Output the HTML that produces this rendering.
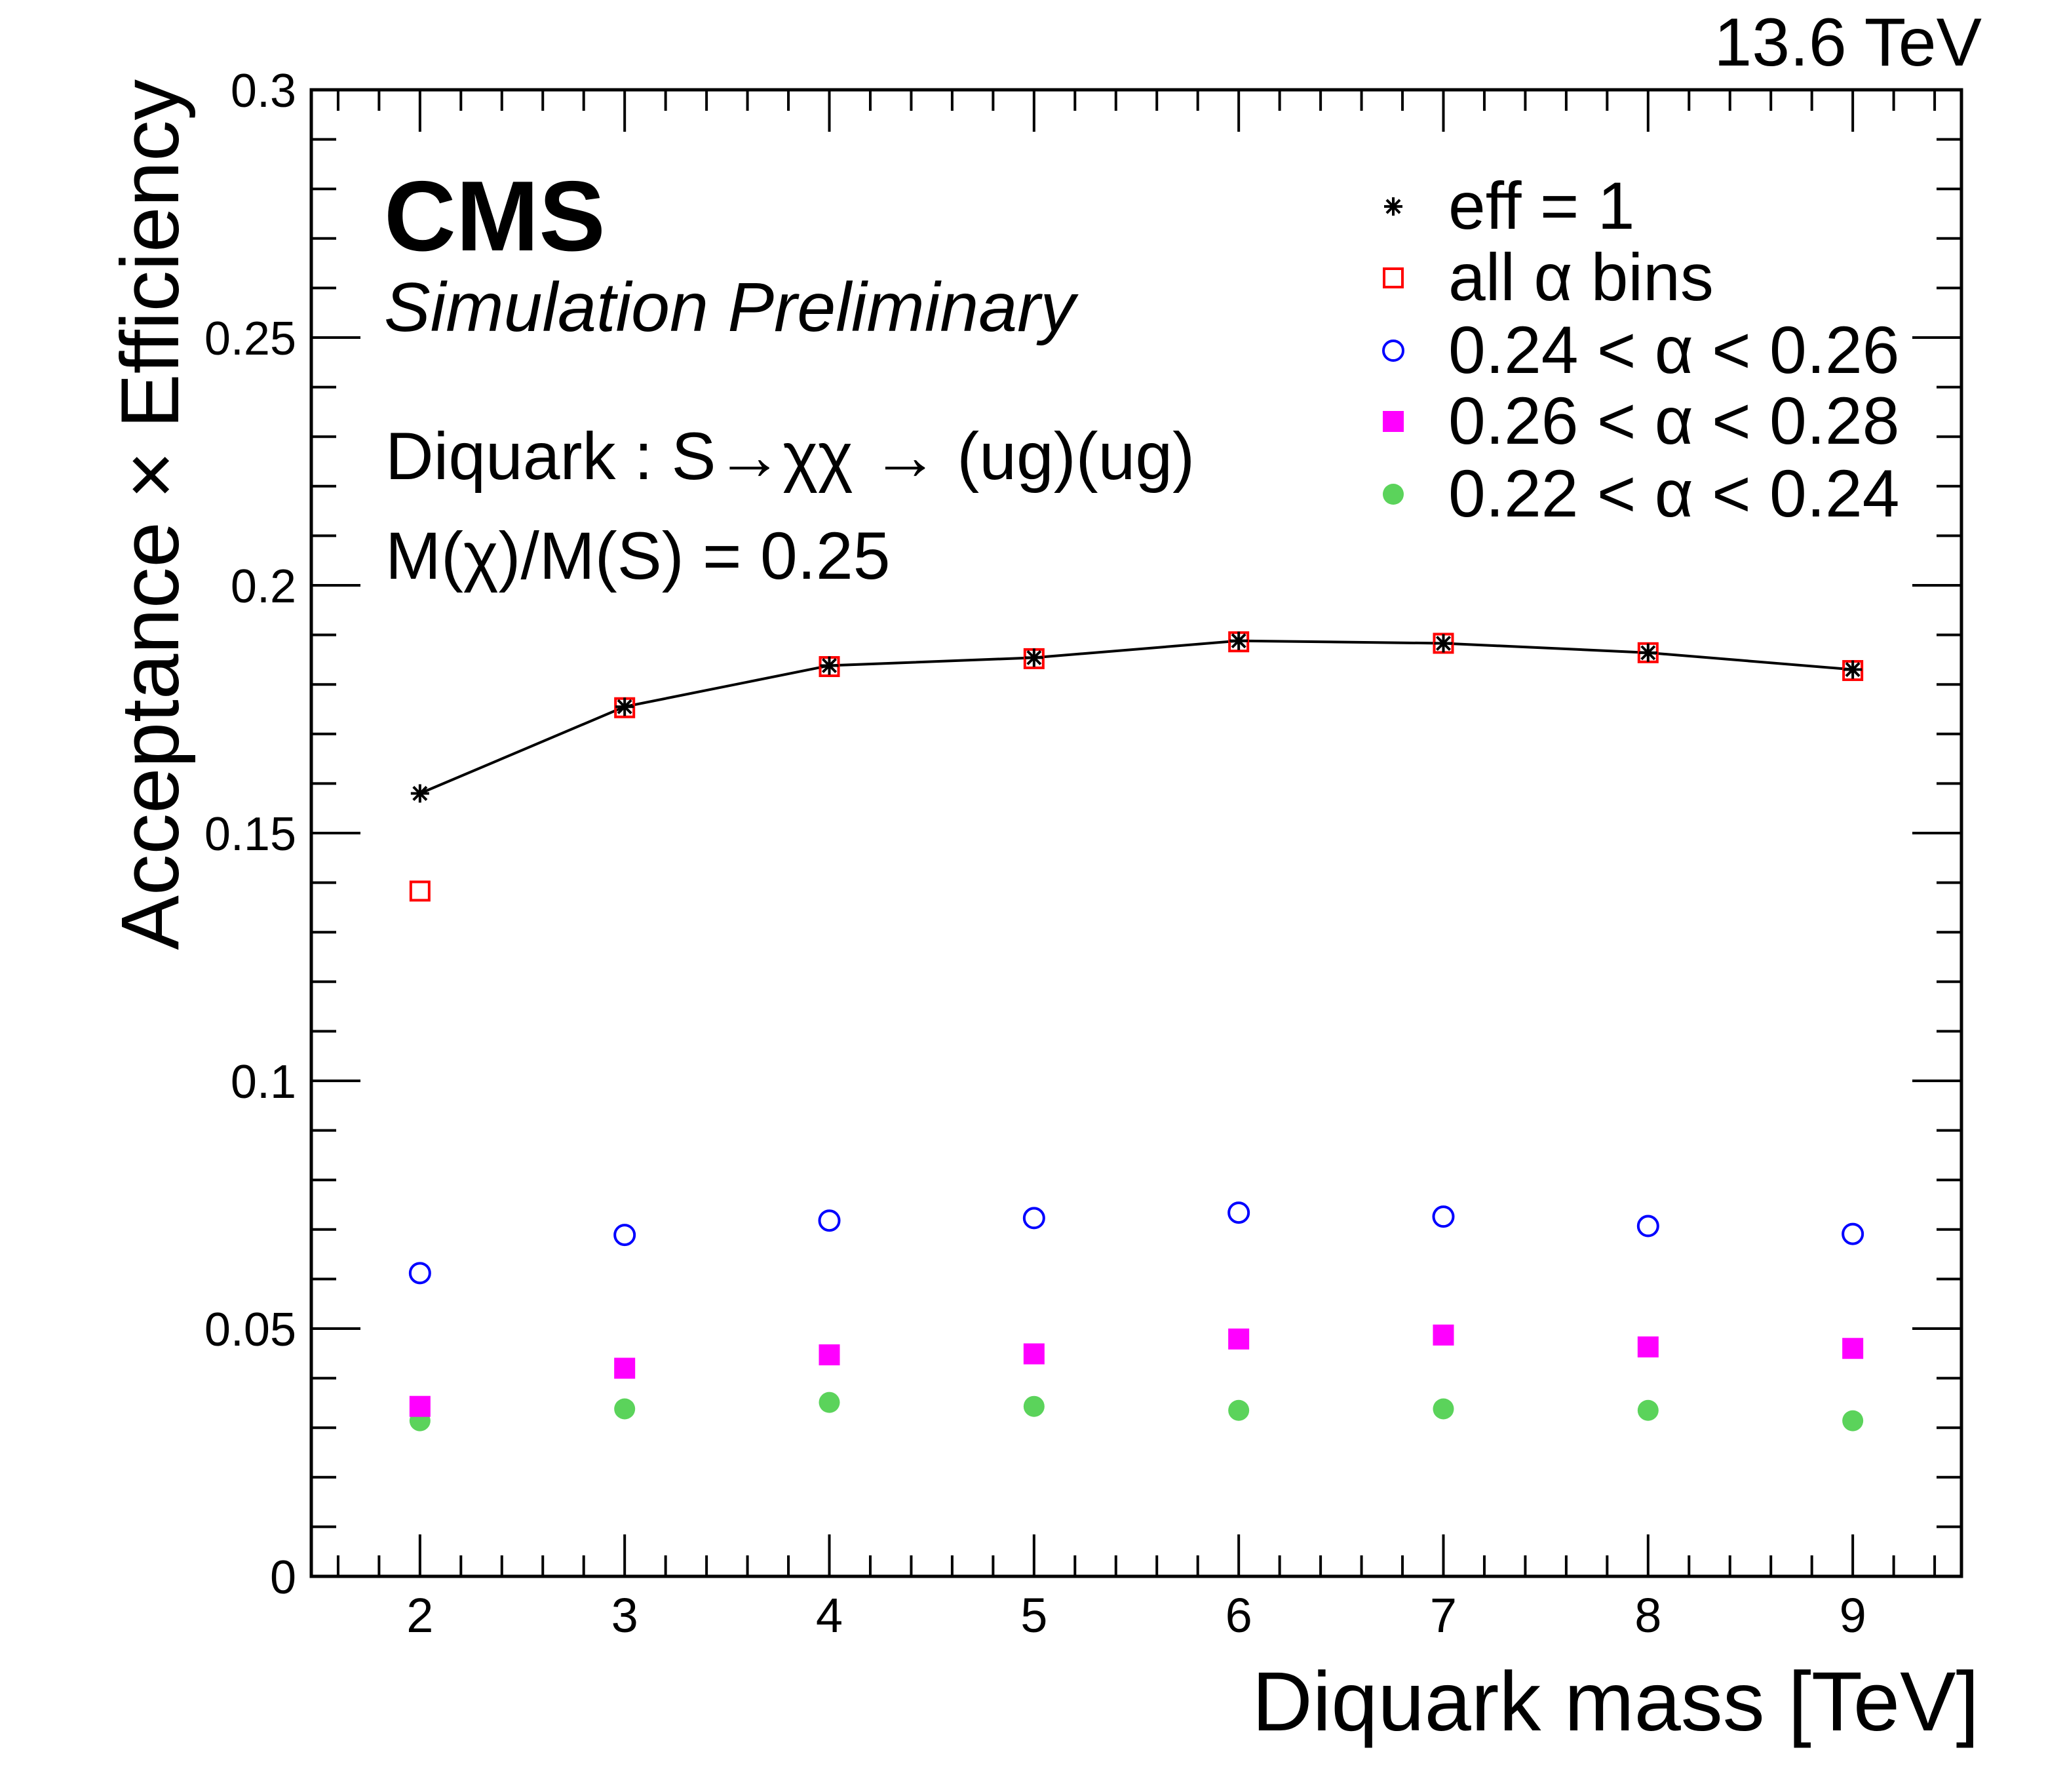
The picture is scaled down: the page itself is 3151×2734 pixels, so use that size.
<!DOCTYPE html>
<html><head><meta charset="utf-8"><style>
html,body{margin:0;padding:0;background:#fff}
svg{display:block}
text{font-family:"Liberation Sans",Arial,sans-serif;fill:#000}
</style></head><body>
<svg id="chart" width="3151" height="2734" viewBox="0 0 3151 2734" xmlns="http://www.w3.org/2000/svg">
<rect width="3151" height="2734" fill="#fff"/>
<g id="ticks"></g>
<g id="marks"></g>
<rect x="475" y="137" width="2518" height="2268" fill="none" stroke="#000" stroke-width="5"/>
<text x="3024" y="100" font-size="104" text-anchor="end">13.6 TeV</text>
<text x="586" y="382" font-size="152" font-weight="bold">CMS</text>
<text x="586" y="505" font-size="106" font-style="italic">Simulation Preliminary</text>
<text x="588" y="731" font-size="102">Diquark : S→χχ → (ug)(ug)</text>
<text x="588" y="883" font-size="102">M(χ)/M(S) = 0.25</text>
<text transform="translate(272,121) rotate(-90)" font-size="125" text-anchor="end">Acceptance × Efficiency</text>
<text x="3020" y="2640" font-size="128" text-anchor="end">Diquark mass [TeV]</text>
<g id="legend"></g>
</svg>
<script>
const masses=[2,3,4,5,6,7,8,9];
const effOne=[0.158,0.1755,0.1838,0.1854,0.1888,0.1883,0.1864,0.183];
const allBins=[0.1383,0.1753,0.1836,0.1852,0.1886,0.1883,0.1864,0.1828];
const bin024=[0.0612,0.0689,0.0718,0.0723,0.0734,0.0726,0.0707,0.0691];
const bin026=[0.0343,0.042,0.0447,0.0449,0.0479,0.0487,0.0463,0.046];
const bin022=[0.0314,0.0338,0.0351,0.0343,0.0335,0.0338,0.0335,0.0314];
const yTickLabels=["0","0.05","0.1","0.15","0.2","0.25","0.3"];
const xTickLabels=["2","3","4","5","6","7","8","9"];
const legendLabels=["eff = 1","all α bins","0.24 < α < 0.26","0.26 < α < 0.28","0.22 < α < 0.24"];

const L=475,R=2993,T=137,B=2405,XMIN=1.469,XMAX=9.531,YMIN=0,YMAX=0.3;
const X=v=>L+(v-XMIN)/(XMAX-XMIN)*(R-L);
const Y=v=>B-(v-YMIN)/(YMAX-YMIN)*(B-T);
const NS="http://www.w3.org/2000/svg";
function mk(tag,attrs,parent){const e=document.createElementNS(NS,tag);for(const k in attrs)e.setAttribute(k,attrs[k]);parent.appendChild(e);return e;}
const ticks=document.getElementById('ticks'),marks=document.getElementById('marks'),legend=document.getElementById('legend');

for(let i=0;;i++){const v=1.6+i*0.2;if(v>XMAX)break;const major=Math.abs(v-Math.round(v))<1e-6;const len=major?64:32;const x=X(v);
 const t=mk('line',{x1:x,x2:x,y1:B,y2:B-len,stroke:'#000','stroke-width':4},ticks);
 
 const t2=mk('line',{x1:x,x2:x,y1:T,y2:T+len,stroke:'#000','stroke-width':4},ticks);
 }
xTickLabels.forEach((s,i)=>{const t=mk('text',{x:X(masses[i]),y:2490,'font-size':74,'text-anchor':'middle'},ticks);t.textContent=s;
 });
for(let i=0;i<=30;i++){const v=i*0.01;const major=i%5===0;const len=major?75:38;const y=Y(v);
 const t=mk('line',{x1:L,x2:L+len,y1:y,y2:y,stroke:'#000','stroke-width':4},ticks);
 
 const t2=mk('line',{x1:R,x2:R-len,y1:y,y2:y,stroke:'#000','stroke-width':4},ticks);
 }
yTickLabels.forEach((s,i)=>{const t=mk('text',{x:452,y:Y(i*0.05)+26,'font-size':72,'text-anchor':'end'},ticks);t.textContent=s;
 });

function star(x,y,p,name){const g=mk('g',{stroke:'#000','stroke-width':4},p);
 const r=14;mk('line',{x1:x-r,x2:x+r,y1:y,y2:y},g);mk('line',{x1:x,x2:x,y1:y-r,y2:y+r},g);
 const d=r*0.72;mk('line',{x1:x-d,x2:x+d,y1:y-d,y2:y+d},g);mk('line',{x1:x-d,x2:x+d,y1:y+d,y2:y-d},g);}
function osq(x,y,p,name){const e=mk('rect',{x:x-14,y:y-14,width:28,height:28,fill:'none',stroke:'#f00','stroke-width':4},p);}
function ocirc(x,y,p,name){const e=mk('circle',{cx:x,cy:y,r:15,fill:'none',stroke:'#00f','stroke-width':4},p);}
function fsq(x,y,p,name){const e=mk('rect',{x:x-16,y:y-16,width:32,height:32,fill:'#f0f'},p);}
function fcirc(x,y,p,name){const e=mk('circle',{cx:x,cy:y,r:16,fill:'#5bd35b'},p);}

const line=mk('polyline',{points:masses.map((m,i)=>X(m)+','+Y(effOne[i])).join(' '),fill:'none',stroke:'#000','stroke-width':4},marks);

masses.forEach((m,i)=>{
 fcirc(X(m),Y(bin022[i]),marks,'point-022-024');
 fsq(X(m),Y(bin026[i]),marks,'point-026-028');
 ocirc(X(m),Y(bin024[i]),marks,'point-024-026');
 osq(X(m),Y(allBins[i]),marks,'point-all-bins');
 star(X(m),Y(effOne[i]),marks,'point-eff-one');
});

const lb=[349,458,569,677,788];const fns=[star,osq,ocirc,fsq,fcirc];
legendLabels.forEach((s,i)=>{fns[i](2126,lb[i]-34,legend,'legend-marker');
 const t=mk('text',{x:2210,y:lb[i],'font-size':102},legend);t.textContent=s;
 });
</script>
</body></html>
